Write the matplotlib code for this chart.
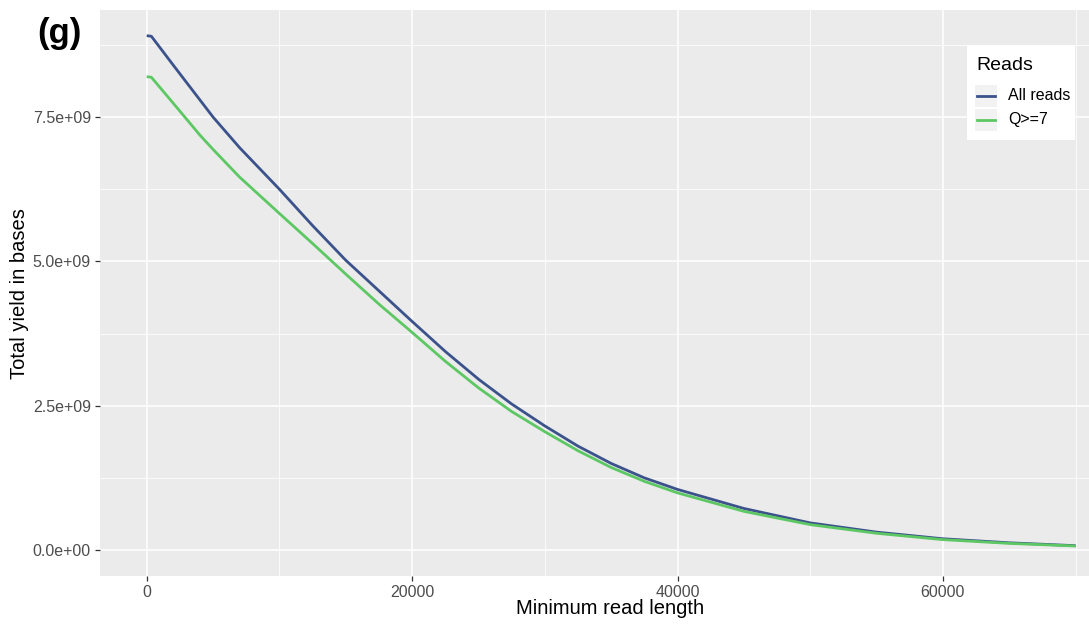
import matplotlib
matplotlib.use("Agg")
import matplotlib.pyplot as plt
from matplotlib.patches import Rectangle
from matplotlib.lines import Line2D
from matplotlib.ticker import FuncFormatter, MultipleLocator

plt.rcParams['font.family'] = ['Liberation Sans', 'DejaVu Sans']

# Minimum read length threshold (bases)
min_length = [0, 350, 2000, 4000, 5000, 7000, 10000, 12500, 15000, 17500,
              20000, 22500, 25000, 27500, 30000, 32500, 35000, 37500, 40000,
              45000, 50000, 55000, 60000, 65000, 70000]

# Total yield (bases) above the threshold
yield_all = [8.91e9, 8.90e9, 8.40e9, 7.80e9, 7.50e9, 6.97e9, 6.25e9, 5.62e9,
             5.02e9, 4.49e9, 3.96e9, 3.44e9, 2.96e9, 2.53e9, 2.15e9, 1.80e9,
             1.50e9, 1.25e9, 1.05e9, 0.72e9, 0.47e9, 0.31e9, 0.195e9, 0.125e9,
             0.075e9]
yield_q7 = [8.20e9, 8.19e9, 7.74e9, 7.19e9, 6.94e9, 6.46e9, 5.83e9, 5.31e9,
            4.78e9, 4.26e9, 3.77e9, 3.27e9, 2.81e9, 2.40e9, 2.05e9, 1.72e9,
            1.43e9, 1.19e9, 0.99e9, 0.67e9, 0.44e9, 0.29e9, 0.18e9, 0.115e9,
            0.07e9]

series_names = ["All reads", "Q>=7"]
series_colors = ["#3B528B", "#5DC863"]

W, H = 1089, 628
fig = plt.figure(figsize=(W / 100, H / 100), dpi=100)
fig.patch.set_facecolor("white")

# panel in pixel coordinates
px_l, px_r, px_t, px_b = 100, 1089, 10, 576
ax = fig.add_axes([px_l / W, 1 - px_b / H, (px_r - px_l) / W, (px_b - px_t) / H])
ax.set_facecolor("#EBEBEB")
for s in ax.spines.values():
    s.set_visible(False)

ax.set_xlim(-3520, 71010)
ax.set_ylim(-0.45e9, 9.355e9)

ax.xaxis.set_major_locator(MultipleLocator(20000))
ax.xaxis.set_minor_locator(MultipleLocator(10000))
ax.yaxis.set_major_locator(MultipleLocator(2.5e9))
ax.yaxis.set_minor_locator(MultipleLocator(1.25e9))
ax.grid(which="major", color="white", linewidth=1.1)
ax.grid(which="minor", color="white", linewidth=0.55)
ax.set_axisbelow(True)

ax.xaxis.set_major_formatter(FuncFormatter(lambda v, p: f"{int(v)}"))
ax.yaxis.set_major_formatter(FuncFormatter(lambda v, p: f"{v:.1e}"))
ax.tick_params(which="major", length=3.5, width=0.9, color="#333333",
               labelcolor="#4D4D4D", labelsize=11.5, pad=3)
ax.tick_params(which="minor", length=0)

for ys, c in zip([yield_all, yield_q7], series_colors):
    ax.plot(min_length, ys, color=c, linewidth=2.0, solid_capstyle="butt",
            solid_joinstyle="round")

ax.set_xlabel("Minimum read length", fontsize=14.5, color="black")
ax.set_ylabel("Total yield in bases", fontsize=14.5, color="black")
ax.xaxis.set_label_coords((610 - px_l) / (px_r - px_l), -(608 - px_b) / (px_b - px_t))
ax.yaxis.set_label_coords(-(px_l - 20) / (px_r - px_l), (px_b - 294) / (px_b - px_t))
ax.xaxis.label.set_va("center")
ax.yaxis.label.set_va("center")

# panel tag
fig.text(59 / W, 1 - 33 / H, "(g)", fontsize=25, fontweight="bold",
         ha="center", va="center", color="black")

# legend box drawn in pixel coordinates
def fx(x):
    return x / W

def fy(y):
    return 1 - y / H

fig.add_artist(Rectangle((fx(967), fy(140)), (1075 - 967) / W, (140 - 45) / H,
                         transform=fig.transFigure, facecolor="white",
                         edgecolor="none", zorder=5))
fig.text(fx(976), fy(65), "Reads", fontsize=14, ha="left", va="center",
         color="black", zorder=6)
rows = [96, 119.5]
for yc, name, c in zip(rows, series_names, series_colors):
    fig.add_artist(Rectangle((fx(975), fy(yc + 11)), 22 / W, 22 / H,
                             transform=fig.transFigure, facecolor="#F2F2F2",
                             edgecolor="none", zorder=6))
    fig.add_artist(Line2D([fx(977), fx(995)], [fy(yc), fy(yc)],
                          transform=fig.transFigure, color=c, linewidth=2.0,
                          zorder=7))
    fig.text(fx(1008), fy(yc), name, fontsize=11.5, ha="left", va="center",
             color="black", zorder=7)

fig.savefig("out.png", dpi=100)
